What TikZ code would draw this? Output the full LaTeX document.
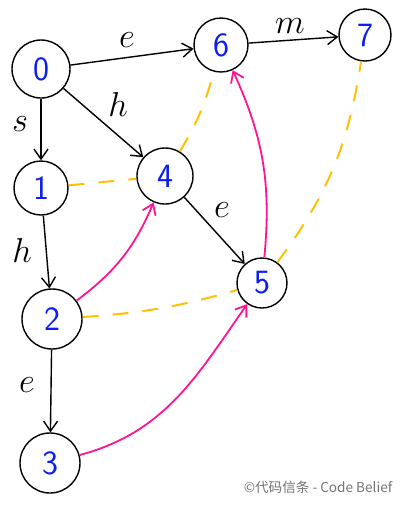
\documentclass[tikz,border=0pt]{standalone}
\usepackage{fontspec}
\newfontfamily\cjk{Noto Sans CJK SC}
\usetikzlibrary{arrows.meta}
\definecolor{digitblue}{HTML}{0A1EF0}
\definecolor{pinkpath}{HTML}{FF1493}
\definecolor{dashgold}{HTML}{FFC000}
\tikzset{
  vertex/.style={circle, draw, line width=0.7pt, inner sep=0pt, minimum size=27pt,
    text=digitblue, font=\sffamily\fontsize{17}{20}\selectfont},
  flow/.style={-{Straight Barb[length=5pt,width=7pt]}, line width=0.7pt},
  pinkflow/.style={-{Straight Barb[length=5pt,width=7pt]}, pinkpath, line width=0.9pt},
  golddash/.style={dashgold, line width=1pt, dash pattern=on 8pt off 7pt},
  lbl/.style={font=\fontsize{18}{20}\selectfont}
}
\begin{document}
\begin{tikzpicture}[x=0.5pt, y=-0.5pt]
  \useasboundingbox (0,0) rectangle (400,505);
  % vertices
  \node[vertex, minimum size=29pt] (n0) at (41,69) {0};
  \node[vertex] (n6) at (221,45) {6};
  \node[vertex, minimum size=26pt] (n7) at (365,35) {7};
  \node[vertex, minimum size=27pt] (n1) at (41,188) {1};
  \node[vertex, minimum size=28pt] (n4) at (165,176) {4};
  \node[vertex, minimum size=25pt] (n5) at (262,283) {5};
  \node[vertex, minimum size=30pt] (n2) at (52,319) {2};
  \node[vertex, minimum size=30pt] (n3) at (50,463) {3};
  % labelled edges
  \draw[flow] (n0) -- (n6);
  \draw[flow] (n0) -- (n1);
  \draw[flow] (n0) -- (n4);
  \draw[flow] (n6) -- (n7);
  \draw[flow] (n4) -- (n5);
  \draw[flow] (n1) -- (n2);
  \draw[flow] (n2) -- (n3);
  \node[lbl] (le06) at (127,40) {$e$};
  \node[lbl] (ls01) at (20,124) {$s$};
  \node[lbl] (lh04) at (118,104) {$h$};
  \node[lbl] (lm67) at (290,26) {$m$};
  \node[lbl] (le45) at (222,210) {$e$};
  \node[lbl] (lh12) at (22,250) {$h$};
  \node[lbl] (le23) at (27,385) {$e$};
  % pink paths
  \draw[pinkflow] (n2) to[bend right=15] (n4);
  \draw[pinkflow] (n3) to[out=15, in=235] (n5);
  \draw[pinkflow] (n5) to[bend right=15] (n6);
  % gold dashed links
  \draw[golddash] (n1) -- (n4);
  \draw[golddash] (n4) to[bend right=8] (n6);
  \draw[golddash] (n2) to[bend right=6] (n5);
  \draw[golddash] (n5) to[bend right=14] (n7);
  % watermark
  \node[text=black!55, font=\cjk\fontsize{6.8}{8}\selectfont] (mark) at (318,487) {©代码信条 - Code Belief};
\end{tikzpicture}
\end{document}
